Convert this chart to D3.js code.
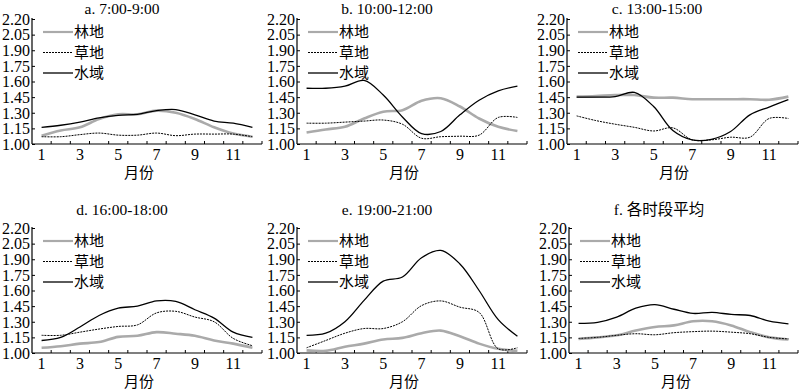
<!DOCTYPE html>
<html>
<head>
<meta charset="utf-8">
<script src="https://cdn.jsdelivr.net/npm/d3@7/dist/d3.min.js"></script>
<style>
  body { margin: 0; background: #fff; }
  text { fill: #000; }
</style>
</head>
<body>
<div id="chart"></div>
<script>
const months = [1, 2, 3, 4, 5, 6, 7, 8, 9, 10, 11, 12];
const monthLabels = [1, 3, 5, 7, 9, 11];
const yTicks = [1.00, 1.15, 1.30, 1.45, 1.60, 1.75, 1.90, 2.05, 2.20];
const seriesNames = ["林地", "草地", "水域"];
const titles = ["a. 7:00-9:00", "b. 10:00-12:00", "c. 13:00-15:00",
                "d. 16:00-18:00", "e. 19:00-21:00", "f. 各时段平均"];

// 林地 / 草地 / 水域 for each time window
const forestA = [1.08, 1.13, 1.16, 1.24, 1.285, 1.285, 1.32, 1.30, 1.24, 1.16, 1.10, 1.07];
const grassA  = [1.07, 1.07, 1.09, 1.105, 1.085, 1.085, 1.105, 1.08, 1.095, 1.095, 1.095, 1.07];
const waterA  = [1.16, 1.18, 1.21, 1.25, 1.275, 1.285, 1.32, 1.33, 1.28, 1.22, 1.20, 1.16];

const forestB = [1.11, 1.14, 1.165, 1.245, 1.31, 1.325, 1.415, 1.44, 1.36, 1.245, 1.165, 1.125];
const grassB  = [1.20, 1.20, 1.21, 1.22, 1.23, 1.19, 1.055, 1.07, 1.075, 1.085, 1.255, 1.255];
const waterB  = [1.535, 1.535, 1.555, 1.61, 1.47, 1.26, 1.10, 1.12, 1.28, 1.42, 1.51, 1.555];

const forestC = [1.455, 1.46, 1.47, 1.47, 1.445, 1.445, 1.43, 1.43, 1.43, 1.43, 1.425, 1.455];
const grassC  = [1.27, 1.225, 1.19, 1.16, 1.125, 1.155, 1.04, 1.04, 1.065, 1.065, 1.245, 1.245];
const waterC  = [1.45, 1.45, 1.455, 1.495, 1.36, 1.13, 1.04, 1.045, 1.12, 1.28, 1.355, 1.425];

const forestD = [1.05, 1.065, 1.09, 1.105, 1.155, 1.165, 1.20, 1.185, 1.165, 1.12, 1.09, 1.05];
const grassD  = [1.17, 1.17, 1.20, 1.23, 1.255, 1.27, 1.385, 1.40, 1.345, 1.30, 1.14, 1.07];
const waterD  = [1.12, 1.15, 1.25, 1.36, 1.43, 1.45, 1.50, 1.495, 1.415, 1.335, 1.20, 1.15];

const forestE = [1.025, 1.02, 1.06, 1.09, 1.13, 1.145, 1.19, 1.215, 1.16, 1.09, 1.04, 1.02];
const grassE  = [1.05, 1.12, 1.19, 1.235, 1.235, 1.30, 1.455, 1.50, 1.44, 1.39, 1.04, 1.05];
const waterE  = [1.17, 1.19, 1.30, 1.505, 1.69, 1.73, 1.915, 1.985, 1.855, 1.60, 1.32, 1.16];

const forestF = [1.135, 1.15, 1.17, 1.215, 1.25, 1.265, 1.305, 1.305, 1.265, 1.20, 1.15, 1.13];
const grassF  = [1.14, 1.15, 1.17, 1.185, 1.175, 1.195, 1.205, 1.21, 1.20, 1.185, 1.15, 1.135];
const waterF  = [1.285, 1.295, 1.345, 1.43, 1.465, 1.42, 1.38, 1.39, 1.37, 1.36, 1.305, 1.28];

const panelData = [
  [forestA, grassA, waterA],
  [forestB, grassB, waterB],
  [forestC, grassC, waterC],
  [forestD, grassD, waterD],
  [forestE, grassE, waterE],
  [forestF, grassF, waterF]
];

const width = 800, height = 390;
// plot boxes: left, top, right, bottom
const boxes = [
  [32, 19, 262, 144], [297, 19, 527, 144], [567, 19, 798, 144],
  [32, 228, 262, 353], [297, 228, 527, 353], [569, 228, 798, 353]
];
const titleY = [14, 14, 14, 215, 215, 215];

const styles = [
  {stroke: "#aaaaaa", width: 2.6, dash: null},
  {stroke: "#000", width: 1, dash: "2,1"},
  {stroke: "#000", width: 1.3, dash: null}
];

const serif = "'Liberation Serif', 'Times New Roman', serif";
const cjk = "'Noto Sans CJK SC', sans-serif";

const svg = d3.select("#chart").append("svg")
    .attr("width", width)
    .attr("height", height);

panelData.forEach((series, p) => {
  const [left, top, right, bottom] = boxes[p];
  const g = svg.append("g");

  const x = d3.scaleBand()
    .domain(months)
    .range([left, right])
    .padding(0);

  const y = d3.scaleLinear()
    .domain([1, 2.2])
    .range([bottom, top]);

  // y axis: inward ticks
  g.append("g")
      .attr("transform", `translate(${left},0)`)
      .call(d3.axisRight(y).tickValues(yTicks).tickSize(3).tickFormat(""))
      .call(a => a.select(".domain").attr("stroke", "#000").attr("stroke-width", 1.2).attr("d", `M0,${top - 1}V${bottom}`))
      .call(a => a.selectAll(".tick line").attr("stroke", "#000"));

  g.append("g")
    .selectAll("text")
    .data(yTicks)
    .join("text")
      .attr("x", left - 2)
      .attr("y", d => y(d))
      .attr("dy", "0.36em")
      .attr("text-anchor", "end")
      .attr("font-family", serif)
      .attr("font-size", 16)
      .text(d3.format(".2f"));

  // x axis: ticks at month boundaries, pointing up
  const edges = months.map(m => x(m) + x.bandwidth());
  const xa = g.append("g");
  xa.append("line")
      .attr("x1", left).attr("x2", right)
      .attr("y1", bottom).attr("y2", bottom)
      .attr("stroke", "#000").attr("stroke-width", 1.2);
  xa.selectAll("line.tk")
    .data(edges)
    .join("line")
      .attr("class", "tk")
      .attr("x1", d => d).attr("x2", d => d)
      .attr("y1", bottom).attr("y2", bottom - 3)
      .attr("stroke", "#000");
  xa.selectAll("text")
    .data(monthLabels)
    .join("text")
      .attr("x", d => x(d) + x.bandwidth() / 2)
      .attr("y", bottom + 16)
      .attr("text-anchor", "middle")
      .attr("font-family", serif)
      .attr("font-size", 16)
      .text(d => d);

  g.append("text")
      .attr("x", left + 107)
      .attr("y", bottom + 34)
      .attr("text-anchor", "middle")
      .attr("font-family", cjk)
      .attr("font-size", 15)
      .text("月份");

  g.append("text")
      .attr("x", left + 90)
      .attr("y", titleY[p])
      .attr("text-anchor", "middle")
      .attr("font-family", serif + ", " + cjk)
      .attr("font-size", 15.5)
      .text(titles[p]);

  const line = d3.line()
    .x((d, i) => x(months[i]) + x.bandwidth() / 2)
    .y(d => y(d))
    .curve(d3.curveCatmullRom.alpha(0.5));

  series.forEach((vals, s) => {
    g.append("path")
        .datum(vals)
        .attr("fill", "none")
        .attr("stroke", styles[s].stroke)
        .attr("stroke-width", styles[s].width)
        .attr("stroke-dasharray", styles[s].dash)
        .attr("d", line);
  });

  // legend
  const lg = g.append("g").attr("transform", `translate(${left + 11},${top + 13})`);
  seriesNames.forEach((name, s) => {
    const ly = s * 20.5;
    lg.append("line")
        .attr("x1", 0).attr("x2", 30)
        .attr("y1", ly).attr("y2", ly)
        .attr("stroke", styles[s].stroke)
        .attr("stroke-width", s === 0 ? 2.2 : styles[s].width)
        .attr("stroke-dasharray", styles[s].dash);
    lg.append("text")
        .attr("x", 31)
        .attr("y", ly)
        .attr("dy", "0.36em")
        .attr("font-family", cjk)
        .attr("font-size", 15)
        .text(name);
  });
});
</script>
</body>
</html>
